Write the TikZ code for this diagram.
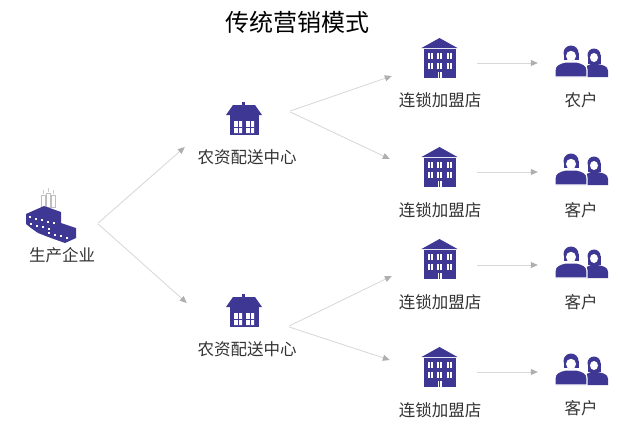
\documentclass[tikz,border=0pt]{standalone}
\usepackage{fontspec}
\usepackage{tikz}
\usetikzlibrary{arrows.meta,calc}
\newfontfamily\cjk{Noto Sans CJK SC}
\definecolor{ink}{RGB}{62,56,148}
\definecolor{wire}{RGB}{215,215,215}
\definecolor{tipgray}{RGB}{175,175,175}
\tikzset{spot/.style 2 args={inner sep=0pt,minimum width=#1pt,minimum height=#2pt}}
\tikzset{lab/.style={font=\cjk\fontsize{16.5}{18}\selectfont,text=black!80,inner sep=0pt}}
\tikzset{link/.style={draw=wire,line width=0.8pt,-{Triangle[length=7pt,width=6pt,color=tipgray]}}}
\tikzset{plant/.pic={
    \fill[white,draw=black!25,line width=0.4pt] (-9,-23) rectangle (-5,-11) (-4,-25) rectangle (0,-11) (1,-23) rectangle (5,-11);
    \draw[black!20,line width=0.4pt] (-7,-24) -- (-7,-28) (-2,-26) -- (-2,-30) (3,-24) -- (3,-28);
    \fill[ink] (-24,-4) -- (-6,-12) -- (11,-6) -- (11,5) -- (26,10) -- (26,20) -- (15,25) -- (1,20) -- (-12,15) -- (-19,10) -- (-24,6) -- cycle;
    \foreach \i in {0,...,4} \fill[white] ({-21+6*\i},{-2+1.6*\i}) rectangle ++(2,2);
    \foreach \i in {0,...,3} \fill[white] ({-20+6*\i},{5+1.6*\i}) rectangle ++(2,2);
    \foreach \i in {0,...,3} \fill[white] ({-2+6*\i},{14+1.6*\i}) rectangle ++(2,2);
  }}
\tikzset{depot/.pic={
    \fill[ink] (-2,-18) rectangle (1,-14);
    \fill[ink] (-11,-15) -- (11,-15) -- (18,-5) -- (-18,-5) -- cycle;
    \fill[ink] (-14.5,-5) rectangle (14.5,15);
    \fill[white] (-10,1) rectangle (-2,13) (2,1) rectangle (10,13);
    \draw[ink,line width=1pt] (-6,1) -- (-6,13) (6,1) -- (6,13) (-10,7) -- (-2,7) (2,7) -- (10,7);
  }}
\tikzset{shop/.pic={
    \fill[ink] (-18,-10) -- (0,-20) -- (18,-10) -- cycle;
    \fill[ink] (-16,-9) rectangle (16,20);
    \foreach \x in {-12,-9,-2.5,0.5,7,10} \foreach \y in {-5,5} \fill[white] (\x,\y) rectangle ++(2,6);
    \fill[white] (-2,14) rectangle (2,20);
    \draw[ink,line width=0.8pt] (0,14) -- (0,20);
  }}
\tikzset{folk/.pic={
    \fill[ink] (13,-6) circle (6.5);
    \fill[ink] (6.5,-6) rectangle (19.5,3);
    \fill[white] (13,-3.5) ellipse (4 and 4.5);
    \fill[ink] (4,16) -- (4,9) .. controls (4,5) and (7,4) .. (10,3) -- (16,3) .. controls (22,4) and (27,5) .. (27,10) -- (27,16) -- cycle;
    \fill[ink] (-10,-8) circle (7.5);
    \fill[ink] (-17.5,-8) rectangle (-2.5,-1);
    \fill[white] (-10,-5) ellipse (5 and 5.2);
    \filldraw[ink,draw=white,line width=1.2pt] (-26,16) -- (-26,9) .. controls (-26,4) and (-22,2.5) .. (-16,1) -- (-4,1) .. controls (2,2.5) and (6,4) .. (6,9) -- (6,16) -- cycle;
  }}

\begin{document}
\begin{tikzpicture}[x=1pt,y=-1pt]
        \fill[white] (0,0) rectangle (640,429);
        \node[font=\cjk\fontsize{24}{28}\selectfont,inner sep=0pt] (title) at (297,22) {传统营销模式};

        \node[spot={52}{50}] (f) at (50,218) {};
        \pic at (f) {plant};
        \node[lab] (fl) at (62,255) {生产企业};

        \node[spot={36}{34}] (c1) at (244,120) {};
        \node[spot={36}{34}] (c2) at (244,312) {};
        \pic at (c1) {depot};
        \pic at (c2) {depot};
        \node[lab] (c1l) at (247,157) {农资配送中心};
        \node[lab] (c2l) at (247,349) {农资配送中心};

        \node[spot={36}{40}] (s1) at (439.5,58) {};
        \node[spot={36}{40}] (s2) at (439.5,167) {};
        \node[spot={36}{40}] (s3) at (439.5,259) {};
        \node[spot={36}{40}] (s4) at (439.5,367) {};
        \pic at (s1) {shop};
        \pic at (s2) {shop};
        \pic at (s3) {shop};
        \pic at (s4) {shop};
        \node[lab] (s1l) at (440,100) {连锁加盟店};
        \node[lab] (s2l) at (440,210) {连锁加盟店};
        \node[lab] (s3l) at (440,302) {连锁加盟店};
        \node[lab] (s4l) at (440,410) {连锁加盟店};

        \node[spot={54}{32}] (k1) at (581,61) {};
        \node[spot={54}{32}] (k2) at (581,169) {};
        \node[spot={54}{32}] (k3) at (581,262) {};
        \node[spot={54}{32}] (k4) at (581,369) {};
        \pic at (k1) {folk};
        \pic at (k2) {folk};
        \pic at (k3) {folk};
        \pic at (k4) {folk};
        \node[lab] (k1l) at (581,100) {农户};
        \node[lab] (k2l) at (581,210) {客户};
        \node[lab] (k3l) at (581,302) {客户};
        \node[lab] (k4l) at (581,408) {客户};

        \draw[link] ($(f.east)+(22,5)$) -- ($(c1.west)+(-41,27)$);
        \draw[link] ($(f.east)+(22,6)$) -- ($(c2.west)+(-39,-9)$);
        \draw[link] ($(c1.east)+(28,-9)$) -- ($(s1.west)+(-29.5,18)$);
        \draw[link] ($(c1.east)+(28,-8)$) -- ($(s2.west)+(-31.5,-8)$);
        \draw[link] ($(c2.east)+(27,14)$) -- ($(s3.west)+(-29.5,17)$);
        \draw[link] ($(c2.east)+(27,15)$) -- ($(s4.west)+(-31.5,-7)$);
        \draw[link] ($(s1.east)+(19.5,5)$) -- ($(k1.west)+(-16,2)$);
        \draw[link] ($(s2.east)+(19.5,5)$) -- ($(k2.west)+(-16,3)$);
        \draw[link] ($(s3.east)+(19.5,6)$) -- ($(k3.west)+(-16,3)$);
        \draw[link] ($(s4.east)+(19.5,5)$) -- ($(k4.west)+(-16,3)$);
    \end{tikzpicture}
\end{document}
